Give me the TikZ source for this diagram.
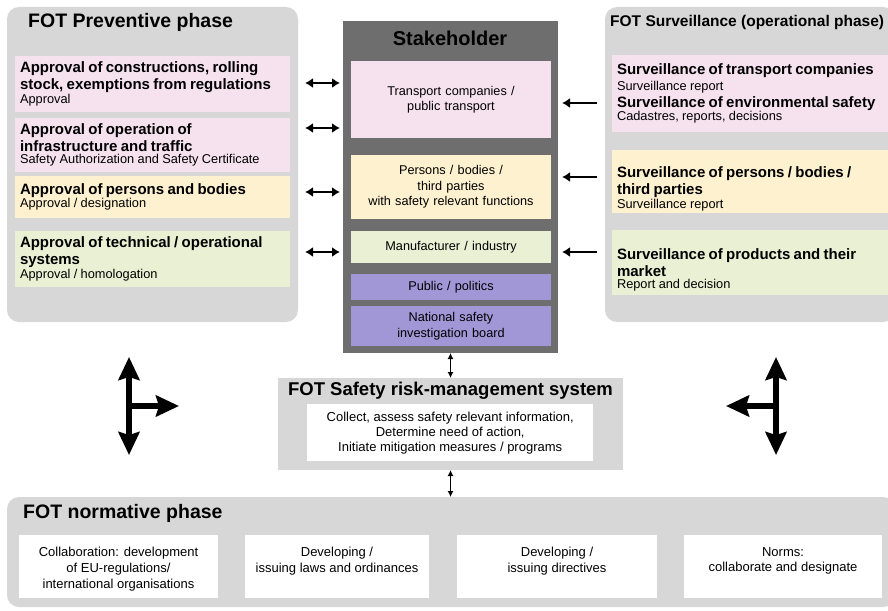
\documentclass[tikz,border=0pt]{standalone}
\usepackage{fontspec}
\setmainfont{Liberation Sans}
\usetikzlibrary{
  arrows.meta,
  positioning,
}

\definecolor{panelgray}{HTML}{D7D7D7}
\definecolor{holdergray}{HTML}{6E6E6E}
\definecolor{rosefill}{HTML}{F6E2EF}
\definecolor{creamfill}{HTML}{FDF1D0}
\definecolor{limefill}{HTML}{EAF0D4}
\definecolor{lilacfill}{HTML}{A197D6}

\newcommand\boxhead{\fontsize{15}{17}\selectfont\bfseries}
\newcommand\boxbody{\fontsize{12.8}{15.5}\selectfont\mdseries}

\tikzset{
  phase/.style={anchor=north west, fill=panelgray, rounded corners=12pt, inner sep=0pt, outer sep=0pt},
  phasetitle/.style={anchor=west, inner sep=0pt, font=\bfseries\fontsize{19.5}{22}\selectfont},
  sidebox/.style={anchor=north west, inner xsep=5pt, inner ysep=0pt, outer sep=0pt, align=left},
  holderbox/.style={anchor=north west, text width=190pt, inner xsep=5pt, inner ysep=0pt, outer sep=0pt,
    align=center, font=\fontsize{12.7}{15.5}\selectfont},
  normbox/.style={anchor=north west, fill=white, minimum height=63pt, inner sep=0pt, outer sep=0pt},
  normtext/.style={anchor=north, align=center, inner sep=0pt, font=\fontsize{13}{15.8}\selectfont},
  twoway/.style={{Latex[length=8pt,width=10pt]}-{Latex[length=8pt,width=10pt]}, line width=2.5pt},
  oneway/.style={-{Latex[length=8pt,width=10pt]}, line width=2.5pt},
  thinway/.style={{Latex[length=6pt,width=6pt]}-{Latex[length=6pt,width=6pt]}, line width=1.7pt},
  bigway/.style={line width=6pt},
  bigtip/.tip={Stealth[length=23pt,width=21pt,inset=3pt]},
}

\begin{document}
\begin{tikzpicture}[x=1pt, y=-1pt]
\useasboundingbox (0,0) rectangle (888,610);

% phase panels
\node[phase, minimum width=291pt, minimum height=315pt] (prev) at (7,7) {};
\node[phase, minimum width=290pt, minimum height=315pt] (surv) at (605,7) {};
\node[phase, minimum width=888pt, minimum height=110pt] (norm) at (7,497) {};

\node[phasetitle] (prev-title) at (28,22) {FOT Preventive phase};
\node[phasetitle, font=\bfseries\fontsize{15.5}{18}\selectfont] (surv-title) at (610,22) {FOT Surveillance (operational phase)};
\node[phasetitle] (norm-title) at (23,513) {FOT normative phase};

% preventive phase
\tikzset{sidebox/.append style={text width=265pt}}
\node[sidebox, fill=rosefill, minimum height=56pt] (prevA) at (15,56)
  {\boxhead Approval of constructions, rolling\\ stock, exemptions from regulations\par\boxbody Approval};
\node[sidebox, fill=rosefill, minimum height=54pt] (prevB) at (15,118)
  {\boxhead Approval of operation of\\ infrastructure and traffic\par\boxbody Safety Authorization and Safety Certificate};
\node[sidebox, fill=creamfill, minimum height=42pt] (prevC) at (15,176)
  {\boxhead Approval of persons and bodies\par\boxbody Approval / designation};
\node[sidebox, fill=limefill, minimum height=56pt] (prevD) at (15,231)
  {\boxhead Approval of technical / operational\\ systems\par\boxbody Approval / homologation};

% surveillance
\node[sidebox, text width=273pt, fill=rosefill, minimum height=77pt] (survA) at (612,55)
  {\boxhead Surveillance of transport companies\par\boxbody Surveillance report\par
   \boxhead Surveillance of environmental safety\par\boxbody Cadastres, reports, decisions};
\node[sidebox, text width=273pt, fill=creamfill, minimum height=63pt] (survB) at (612,150)
  {\boxhead\rule{0pt}{26pt}Surveillance of persons / bodies /\\ third parties\par\boxbody Surveillance report};
\node[sidebox, text width=273pt, fill=limefill, minimum height=65pt] (survC) at (612,230)
  {\boxhead\rule{0pt}{25pt}Surveillance of products and their\\ market\par\boxbody Report and decision};

% stakeholder column
\node[anchor=north west, fill=holdergray, minimum width=215pt, minimum height=332pt, inner sep=0pt, outer sep=0pt] (holder) at (343,21) {};
\node[font=\bfseries\fontsize{20}{23}\selectfont] (holder-title) at (450,38) {Stakeholder};
\node[holderbox, fill=rosefill, minimum height=77pt] (transport) at (351,61) {Transport companies /\\ public transport};
\node[holderbox, fill=creamfill, minimum height=64pt] (persons) at (351,155) {Persons / bodies /\\ third parties\\ with safety relevant functions};
\node[holderbox, fill=limefill, minimum height=32pt] (industry) at (351,231) {Manufacturer / industry};
\node[holderbox, fill=lilacfill, minimum height=26pt] (politics) at (351,274) {Public / politics};
\node[holderbox, fill=lilacfill, minimum height=40pt] (board) at (351,306) {National safety\\ investigation board};

% links to the stakeholders
\foreach \y [count=\i] in {83,128,192,252} {
  \coordinate (left\i) at (305,\y);
  \draw[twoway, shorten >=3pt] (left\i) -- (left\i -| holder.west);
}
\foreach \y [count=\i] in {103,177,252} {
  \coordinate (right\i) at (597,\y);
  \draw[oneway, shorten >=4pt] (right\i) -- (right\i -| holder.east);
}

% risk management
\node[anchor=north west, fill=panelgray, minimum width=345pt, minimum height=92pt, inner sep=0pt, outer sep=0pt] (risk) at (278,378) {};
\node[font=\bfseries\fontsize{18.5}{21}\selectfont] (risk-title) at (450.5,391) {FOT Safety risk-management system};
\node[anchor=north west, fill=white, minimum width=286pt, minimum height=57pt, inner sep=0pt, align=center,
  font=\fontsize{13}{15}\selectfont] (risk-tasks) at (307,404)
  {Collect, assess safety relevant information,\\ Determine need of action,\\ Initiate mitigation measures / programs};

\draw[thinway] (holder.south) -- (risk.north);
\draw[thinway] (risk.south) -- (risk.south |- norm.north);

% normative phase
\foreach \nm/\xa/\boxw/\txt in {
  normA/19/199/{Collaboration: development\\ of EU-regulations/\\ international organisations},
  normB/245/184/{Developing /\\ issuing laws and ordinances},
  normC/457/200/{Developing /\\ issuing directives},
  normD/684/198/{Norms:\\ collaborate and designate}} {
  \node[normbox, minimum width=\boxw pt] (\nm) at (\xa,535) {};
  \node[normtext] (\nm-text) at ([yshift=-12pt]\nm.north) {\txt};
}

% big arrows beside the risk system
\coordinate (upL) at (129,357);
\coordinate (downL) at (129,455);
\coordinate (midL) at (129,406);
\coordinate (tipL) at (179,406);
\coordinate (upR) at (776,357);
\coordinate (downR) at (776,455);
\coordinate (midR) at (776,406);
\coordinate (tipR) at (726,406);
\draw[bigway, bigtip-bigtip] (upL) -- (downL);
\draw[bigway, -bigtip] (midL) -- (tipL);
\draw[bigway, bigtip-bigtip] (upR) -- (downR);
\draw[bigway, -bigtip] (midR) -- (tipR);
\end{tikzpicture}
\end{document}
